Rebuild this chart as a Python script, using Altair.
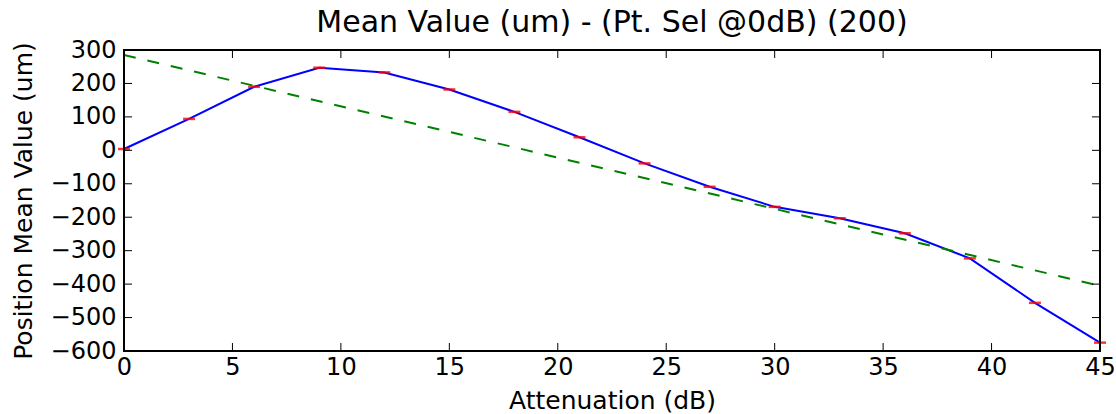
import altair as alt
import pandas as pd

atten = [0, 3, 6, 9, 12, 15, 18, 21, 24, 27, 30, 33, 36, 39, 42, 45]
mean_val = [4, 94, 190, 247, 233, 182, 115, 39, -39, -109, -169, -203, -248, -323, -456, -575]
trend_x = [0, 45]
trend_y = [285, -405]
x_ticks = [0, 5, 10, 15, 20, 25, 30, 35, 40, 45]
y_ticks = [300, 200, 100, 0, -100, -200, -300, -400, -500, -600]

W, H = 976, 301
FONT = "DejaVu Sans"

df = pd.DataFrame({"x": atten, "y": mean_val})
df_tr = pd.DataFrame({"x": trend_x, "y": trend_y})
df_xt = pd.DataFrame({"t": x_ticks})
df_yt = pd.DataFrame({"t": y_ticks})

xs = alt.Scale(domain=[0, 45], nice=False, zero=False)
ys = alt.Scale(domain=[-600, 300], nice=False, zero=False)

common = dict(labelFont=FONT, titleFont=FONT, labelFontSize=24, titleFontSize=25, labelColor="black",
              titleColor="black", titleFontWeight="normal", domain=False, ticks=False, grid=False,
              labelFlush=False, labelOverlap=False)
x_axis = alt.Axis(values=x_ticks, title="Attenuation (dB)", labelPadding=4, titlePadding=9, **common)
y_axis = alt.Axis(values=y_ticks, title="Position Mean Value (um)", labelPadding=8, titlePadding=14, **common)

line = alt.Chart(df).mark_line(color="#0000ff", strokeWidth=2).encode(
    x=alt.X("x:Q", scale=xs, axis=x_axis),
    y=alt.Y("y:Q", scale=ys, axis=y_axis),
)

marks = alt.Chart(df).mark_tick(color="#ff0000", orient="horizontal", size=12, thickness=2.5, opacity=0.8).encode(
    x=alt.X("x:Q", scale=xs, axis=x_axis),
    y=alt.Y("y:Q", scale=ys, axis=y_axis),
)

trend = alt.Chart(df_tr).mark_line(color="#008000", strokeWidth=2, strokeDash=[12, 12]).encode(
    x=alt.X("x:Q", scale=xs, axis=x_axis),
    y=alt.Y("y:Q", scale=ys, axis=y_axis),
)

tick_style = dict(color="black", strokeWidth=1)
bt = alt.Chart(df_xt).mark_rule(**tick_style).encode(
    x=alt.X("t:Q", scale=xs, axis=x_axis), y=alt.value(H), y2=alt.value(H - 8))
tt = alt.Chart(df_xt).mark_rule(**tick_style).encode(
    x=alt.X("t:Q", scale=xs, axis=x_axis), y=alt.value(0), y2=alt.value(8))
lt = alt.Chart(df_yt).mark_rule(**tick_style).encode(
    y=alt.Y("t:Q", scale=ys, axis=y_axis), x=alt.value(0), x2=alt.value(8))
rt = alt.Chart(df_yt).mark_rule(**tick_style).encode(
    y=alt.Y("t:Q", scale=ys, axis=y_axis), x=alt.value(W), x2=alt.value(W - 8))

frame = alt.Chart(df_xt).mark_rect(fill=None, stroke="black", strokeWidth=2).encode(
    x=alt.value(0), x2=alt.value(W), y=alt.value(0), y2=alt.value(H))

chart = alt.layer(line, marks, trend, bt, tt, lt, rt, frame).properties(
    width=W, height=H,
    title=alt.TitleParams("Mean Value (um) - (Pt. Sel @0dB) (200)", font=FONT, fontSize=30,
                          fontWeight="normal", color="black", anchor="middle", offset=0),
    autosize=alt.AutoSizeParams(type="none"),
    padding={"left": 124, "top": 50, "right": 16, "bottom": 63},
    background="white",
).configure_view(stroke=None)

chart.save("out.html", embed_options={"renderer": "svg", "actions": False})
